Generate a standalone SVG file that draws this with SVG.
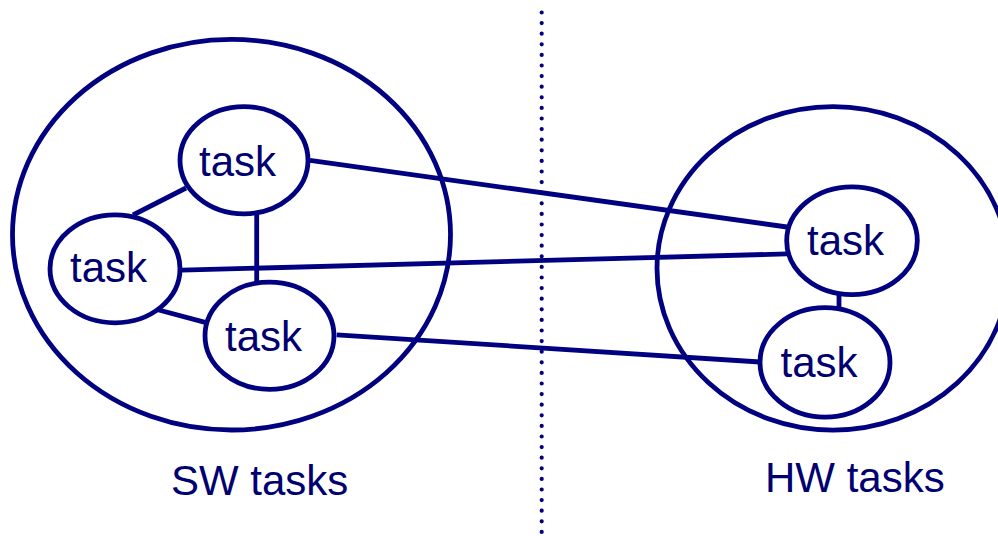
<svg xmlns="http://www.w3.org/2000/svg" width="998" height="536" viewBox="0 0 998 536">
  <style>
    .ring { fill: none; stroke: #000080; stroke-width: 4.8; }
    .node { fill: #fff; stroke: #000080; stroke-width: 4.8; }
    .edge { stroke: #000080; stroke-width: 4.8; fill: none; }
    .lbl { font-family: "Liberation Sans", Arial, sans-serif; font-size: 42px; fill: #000070; }
    .divider { stroke: #000080; stroke-width: 4.2; stroke-linecap: round; stroke-dasharray: 0 10.6; }
  </style>
  <rect width="998" height="536" fill="#fff"/>

  <!-- partition line between software and hardware -->
  <line class="divider" x1="541.7" y1="12.5" x2="541.7" y2="535"/>

  <!-- containers -->
  <g id="sw-group">
    <ellipse class="ring" cx="231.5" cy="234.7" rx="219" ry="195.3"/>
    <text class="lbl" x="171" y="495">SW tasks</text>
  </g>
  <g id="hw-group">
    <ellipse class="ring" cx="833" cy="268.4" rx="176" ry="161.7"/>
    <text class="lbl" x="765" y="491.5">HW tasks</text>
  </g>

  <!-- connectors -->
  <g id="connectors">
    <line class="edge" x1="186" y1="188" x2="133" y2="215"/>
    <line class="edge" x1="256.7" y1="212" x2="256.7" y2="284"/>
    <line class="edge" x1="156" y1="309.3" x2="207" y2="322.9"/>
    <line class="edge" x1="310" y1="160.4" x2="787" y2="227"/>
    <line class="edge" x1="181.7" y1="270.2" x2="787" y2="253.9"/>
    <line class="edge" x1="336.7" y1="334.8" x2="760" y2="362"/>
    <line class="edge" x1="839" y1="293" x2="839" y2="309"/>
  </g>

  <!-- software tasks -->
  <g id="sw-task-top">
    <ellipse class="node" cx="244" cy="160.2" rx="64" ry="53.6"/>
    <text class="lbl" x="199" y="176">task</text>
  </g>
  <g id="sw-task-left">
    <ellipse class="node" cx="115" cy="268.8" rx="65" ry="54"/>
    <text class="lbl" x="70" y="282">task</text>
  </g>
  <g id="sw-task-bottom">
    <ellipse class="node" cx="269.5" cy="335.7" rx="64.5" ry="53.6"/>
    <text class="lbl" x="225" y="350.5">task</text>
  </g>

  <!-- hardware tasks -->
  <g id="hw-task-top">
    <ellipse class="node" cx="852" cy="240.8" rx="65.3" ry="53.9"/>
    <text class="lbl" x="807" y="255">task</text>
  </g>
  <g id="hw-task-bottom">
    <ellipse class="node" cx="825" cy="362.4" rx="65" ry="54.7"/>
    <text class="lbl" x="780.5" y="377">task</text>
  </g>
</svg>
